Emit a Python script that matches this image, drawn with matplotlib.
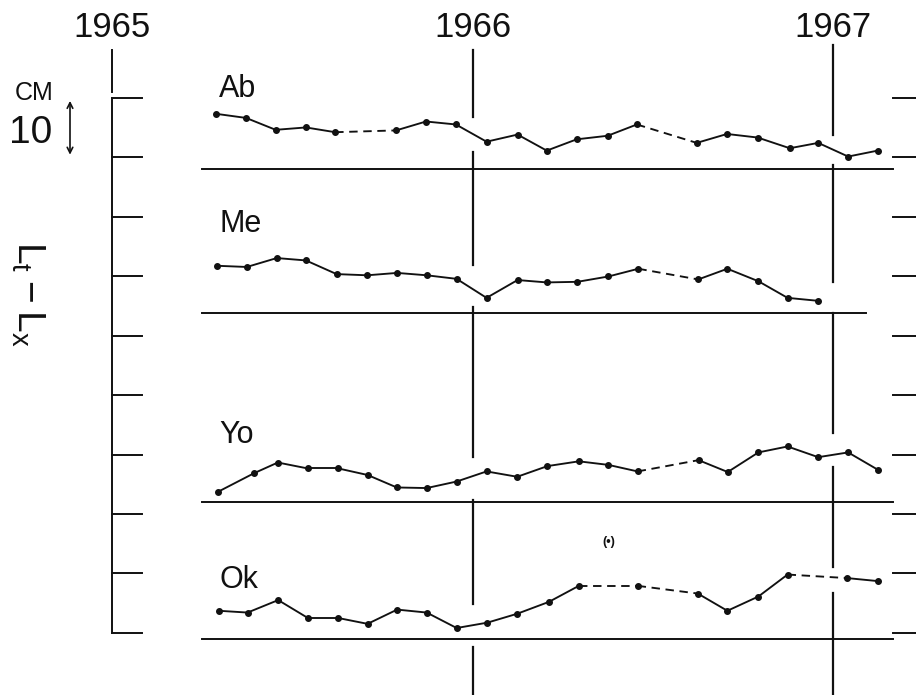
import matplotlib

matplotlib.use("Agg")
import matplotlib.pyplot as plt
import numpy as np

plt.rcParams["font.family"] = ["Liberation Sans", "DejaVu Sans"]
plt.rcParams["mathtext.fontset"] = "custom"
plt.rcParams["mathtext.rm"] = "Liberation Sans"

# Decimal-year sample times and values (cm above each series' own baseline).
ab_t = [1965.288, 1965.372, 1965.454, 1965.538, 1965.619, 1965.788, 1965.871,
        1965.954, 1966.039, 1966.125, 1966.206, 1966.289, 1966.375, 1966.456,
        1966.622, 1966.706, 1966.791, 1966.880, 1966.959, 1967.042, 1967.124]
ab_v = [9.3, 8.6, 6.6, 7.0, 6.2, 6.5, 8.0, 7.5, 4.6, 5.8, 3.1, 5.0, 5.6, 7.5,
        4.4, 5.9, 5.3, 3.5, 4.4, 2.1, 3.1]

me_t = [1965.292, 1965.374, 1965.457, 1965.538, 1965.623, 1965.708, 1965.791,
        1965.873, 1965.956, 1966.039, 1966.125, 1966.206, 1966.291, 1966.377,
        1966.460, 1966.626, 1966.707, 1966.793, 1966.874, 1966.959]
me_v = [7.9, 7.7, 9.2, 8.8, 6.5, 6.3, 6.7, 6.3, 5.7, 2.5, 5.5, 5.1, 5.2, 6.1,
        7.4, 5.6, 7.4, 5.3, 2.5, 2.0]

yo_t = [1965.295, 1965.394, 1965.460, 1965.543, 1965.628, 1965.709, 1965.790,
        1965.873, 1965.956, 1966.039, 1966.124, 1966.208, 1966.295, 1966.377,
        1966.458, 1966.627, 1966.708, 1966.793, 1966.874, 1966.959, 1967.042,
        1967.124]
yo_v = [1.8, 4.9, 6.7, 5.7, 5.7, 4.6, 2.5, 2.4, 3.5, 5.2, 4.3, 6.1, 6.9, 6.3,
        5.2, 7.1, 5.1, 8.4, 9.4, 7.6, 8.4, 5.5]

ok_t = [1965.297, 1965.376, 1965.461, 1965.543, 1965.626, 1965.709, 1965.791,
        1965.873, 1965.956, 1966.041, 1966.124, 1966.212, 1966.295, 1966.458,
        1966.625, 1966.707, 1966.793, 1966.874, 1967.040, 1967.124]
ok_v = [4.8, 4.5, 6.6, 3.6, 3.6, 2.6, 5.0, 4.5, 1.9, 2.8, 4.3, 6.3, 9.0, 9.0,
        7.7, 4.8, 7.2, 10.9, 10.3, 9.8]

# uncertain Ok point, shown in brackets
ok_extra_t = 1966.379
ok_extra_v = 16.4

names = ["Ab", "Me", "Yo", "Ok"]
years = [1965, 1966, 1967]

# layout: baseline heights (cm on the 0-90 scale) of each series
offsets = [78.06, 53.87, 21.95, -1.11]
base_end = [1967.166, 1967.092, 1967.166, 1967.166]
label_y = [90.2, 67.5, 31.9, 7.5]

PX_YR = 360.5
PX_CM = 5.94

fig = plt.figure(figsize=(9.16, 6.95), dpi=100)
ax = fig.add_axes([0, 0, 1, 1])
ax.set_xlim(1965 - 112 / PX_YR, 1965 + 804 / PX_YR)
ax.set_ylim(-(695 - 632.7) / PX_CM, 632.7 / PX_CM)
ax.axis("off")

INK = "#111111"
LW = 1.4

# left scale with 10 cm ticks
ax.plot([1965, 1965], [0, 90], color=INK, lw=LW)
for c in range(0, 91, 10):
    ax.plot([1965, 1965 + 30 / PX_YR], [c, c], color=INK, lw=LW)
    ax.plot([1967 + 60 / PX_YR, 1967.24], [c, c], color=INK, lw=LW)

# year markers (broken where they pass the curves)
ax.plot([1965, 1965], [91.0, 98.1], color=INK, lw=LW)
for lo, hi in [(86.8, 98.1), (61.9, 80.9), (29.6, 54.8), (4.8, 22.4), (-11, -2.4)]:
    ax.plot([1966, 1966], [lo, hi], color=INK, lw=1.6)
for lo, hi in [(83.8, 98.9), (59.0, 78.7), (33.6, 53.8), (11.1, 27.9), (-11, 6.7)]:
    ax.plot([1967, 1967], [lo, hi], color=INK, lw=1.6)

for yr in years:
    ax.text(yr, 100.3, str(yr), ha="center", va="baseline", fontsize=25, color=INK)

series = [(ab_t, ab_v), (me_t, me_v), (yo_t, yo_v), (ok_t, ok_v)]
for (t, v), off, name, end, ly in zip(series, offsets, names, base_end, label_y):
    t = np.array(t)
    y = np.array(v) + off
    ax.plot([1965 + 90 / PX_YR, end], [off, off], color=INK, lw=LW)
    for i in range(len(t) - 1):
        ls = "-" if t[i + 1] - t[i] < 0.13 else (0, (4.5, 3))
        ax.plot(t[i:i + 2], y[i:i + 2], color=INK, lw=1.35, ls=ls)
    ax.plot(t, y, "o", color=INK, ms=4)
    ax.text(1965.297, ly, name, ha="left", va="baseline", fontsize=22, color=INK)

ax.text(ok_extra_t, ok_extra_v + offsets[3], "(•)", ha="center", va="center",
        fontsize=9, fontweight="bold", color=INK)

# scale bar: 10 cm
ax.text(1965 - 78 / PX_YR, 89.6, "CM", ha="center", va="baseline", fontsize=18, color=INK)
ax.text(1965 - 81 / PX_YR, 82.5, "10", ha="center", va="baseline", fontsize=28, color=INK)
ax.annotate("", xy=(1965 - 42 / PX_YR, 80), xytext=(1965 - 42 / PX_YR, 90),
            arrowprops=dict(arrowstyle="<->", color=INK, lw=1.2))

ax.text(1965 - 84 / PX_YR, 57.0, r"$\mathrm{L_t - L_x}$", rotation=-90,
        ha="center", va="center", fontsize=28, color=INK)

fig.savefig("out.png", dpi=100, facecolor="white")
